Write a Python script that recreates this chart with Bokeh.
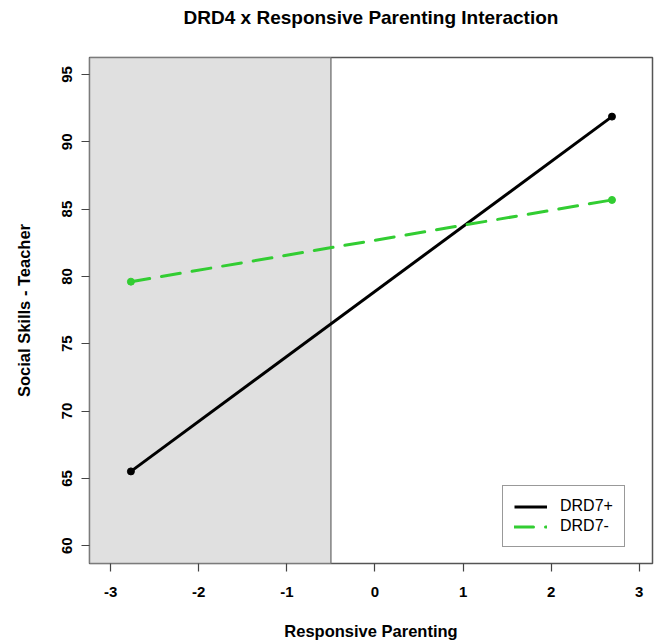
from bokeh.plotting import figure
from bokeh.models import Range1d, Legend, LegendItem, FixedTicker, Title
from bokeh.embed import file_html
from bokeh.resources import INLINE

# ---- data ----
x_vals = [-2.77, 2.69]
drd7_pos = [65.52, 91.87]
drd7_neg = [79.61, 85.68]
x_ticks = [-3, -2, -1, 0, 1, 2, 3]
x_tick_labels = ["-3", "-2", "-1", "0", "1", "2", "3"]
y_ticks = [60, 65, 70, 75, 80, 85, 90, 95]
region_right = -0.5   # right bound of shaded region

x_lo, x_hi = -3.24, 3.15
y_lo, y_hi = 58.68, 96.26

FONT = "Liberation Sans"

p = figure(width=657, height=644, output_backend="svg", toolbar_location=None,
           title=None,
           x_range=Range1d(x_lo, x_hi), y_range=Range1d(y_lo, y_hi),
           min_border_left=89, min_border_right=5, min_border_top=57,
           min_border_bottom=81)

# spacer between title and plot frame, then the title itself
p.add_layout(Title(text=" ", text_font_size="1px", standoff=27), "above")
p.add_layout(Title(text="DRD4 x Responsive Parenting Interaction",
                   align="center", text_font=FONT, text_font_size="19px",
                   text_font_style="bold", text_color="black", standoff=0),
             "above")

p.xgrid.visible = False
p.ygrid.visible = False
p.background_fill_color = "white"
p.border_fill_color = "white"
p.outline_line_color = "#555555"
p.outline_line_width = 1.5

# shaded region
p.quad(left=[x_lo], right=[region_right], bottom=[y_lo], top=[y_hi],
       fill_color="#e0e0e0", line_color="#808080", line_width=1.5)

# lines
r_pos = p.line(x_vals, drd7_pos, line_color="black", line_width=3)
p.scatter(x_vals, drd7_pos, size=7, fill_color="black", line_color="black")
r_neg = p.line(x_vals, drd7_neg, line_color="#32CD32", line_width=3,
               line_dash="19 12", line_cap="round")
p.scatter(x_vals, drd7_neg, size=7, fill_color="#32CD32", line_color="#32CD32")

for ax, ticks in ((p.xaxis[0], x_ticks), (p.yaxis[0], y_ticks)):
    ax.ticker = FixedTicker(ticks=ticks)
    ax.axis_line_color = None
    ax.major_tick_out = 8
    ax.major_tick_in = 0
    ax.major_tick_line_color = "#444444"
    ax.major_tick_line_width = 1.2
    ax.minor_tick_line_color = None
    ax.major_label_text_font = FONT
    ax.major_label_text_font_size = "15px"
    ax.major_label_text_font_style = "bold"
    ax.major_label_text_color = "black"
    ax.axis_label_text_font = FONT
    ax.axis_label_text_font_size = "16.5px"
    ax.axis_label_text_font_style = "bold"
    ax.axis_label_text_color = "black"

p.xaxis.major_label_overrides = dict(zip(x_ticks, x_tick_labels))
p.xaxis.axis_label = "Responsive Parenting"
p.yaxis.axis_label = "Social Skills - Teacher"
p.xaxis.major_label_standoff = 15
p.xaxis.axis_label_standoff = 22
p.yaxis.major_label_standoff = 9
p.yaxis.axis_label_standoff = 27
p.yaxis.major_label_orientation = "vertical"

legend = Legend(items=[LegendItem(label="DRD7+", renderers=[r_pos]),
                       LegendItem(label="DRD7-", renderers=[r_neg])],
                location=(413, 16), margin=0, padding=11, spacing=2,
                glyph_width=33, glyph_height=17, label_height=17,
                label_standoff=13,
                label_text_font=FONT, label_text_font_size="16px",
                label_text_color="black",
                border_line_color="#333333", border_line_width=1,
                background_fill_color="white", background_fill_alpha=1.0)
p.add_layout(legend)

open("out.html", "w").write(file_html(p, INLINE))
